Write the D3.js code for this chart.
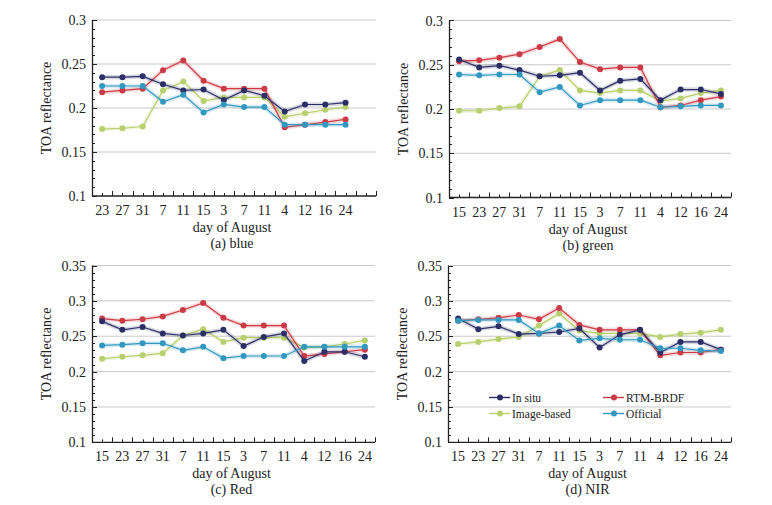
<!DOCTYPE html>
<html><head><meta charset="utf-8">
<script src="https://cdn.jsdelivr.net/npm/d3@7"></script>
<style>body{margin:0;background:#fff}svg{display:block}</style>
</head><body><svg id="c" width="772" height="505"></svg>
<script>
const seriesNames = ["In situ","RTM-BRDF","Image-based","Official"];
const seriesColors = ["#2b2f66","#cc3a45","#b7cf6c","#3198c0"];

const daysBlue = ["23","27","31","7","11","15","3","7","11","4","12","16","24"];
const daysOther = ["15","23","27","31","7","11","15","3","7","11","4","12","16","24"];

const blueInSitu   = [0.235,0.235,0.236,0.227,0.220,0.221,0.209,0.220,0.214,0.196,0.204,0.204,0.206];
const blueRTM      = [0.218,0.220,0.222,0.243,0.254,0.231,0.222,0.222,0.222,0.178,0.181,0.184,0.187];
const blueImage    = [0.176,0.177,0.179,0.220,0.230,0.208,0.212,0.212,0.212,0.190,0.194,0.198,0.201];
const blueOfficial = [0.225,0.225,0.225,0.207,0.215,0.195,0.204,0.201,0.201,0.181,0.181,0.181,0.181];

const greenInSitu   = [0.256,0.247,0.249,0.244,0.237,0.238,0.241,0.221,0.232,0.234,0.210,0.222,0.222,0.217];
const greenRTM      = [0.254,0.255,0.258,0.262,0.270,0.279,0.253,0.245,0.247,0.247,0.202,0.204,0.210,0.214];
const greenImage    = [0.198,0.198,0.201,0.203,0.237,0.244,0.221,0.218,0.221,0.221,0.209,0.212,0.218,0.221];
const greenOfficial = [0.239,0.238,0.239,0.239,0.219,0.225,0.204,0.210,0.210,0.210,0.202,0.203,0.204,0.204];

const redInSitu   = [0.271,0.259,0.263,0.254,0.251,0.254,0.259,0.236,0.249,0.254,0.215,0.228,0.228,0.221];
const redRTM      = [0.275,0.272,0.274,0.278,0.287,0.297,0.276,0.265,0.265,0.265,0.222,0.225,0.228,0.231];
const redImage    = [0.218,0.221,0.223,0.226,0.251,0.260,0.242,0.248,0.248,0.248,0.234,0.235,0.239,0.244];
const redOfficial = [0.237,0.238,0.240,0.240,0.230,0.235,0.219,0.222,0.222,0.222,0.235,0.235,0.235,0.235];

const nirInSitu   = [0.275,0.260,0.264,0.253,0.254,0.256,0.261,0.234,0.252,0.259,0.227,0.242,0.242,0.231];
const nirRTM      = [0.272,0.274,0.276,0.280,0.274,0.290,0.266,0.259,0.259,0.259,0.223,0.227,0.227,0.231];
const nirImage    = [0.239,0.242,0.246,0.249,0.265,0.282,0.258,0.254,0.254,0.254,0.249,0.253,0.255,0.259];
const nirOfficial = [0.272,0.273,0.273,0.273,0.254,0.265,0.244,0.247,0.245,0.245,0.233,0.233,0.230,0.229];

const yTicksLow  = [0.1,0.15,0.2,0.25,0.3];
const yTicksHigh = [0.1,0.15,0.2,0.25,0.3,0.35];
const yTickLabelsLow  = ["0.1","0.15","0.2","0.25","0.3"];
const yTickLabelsHigh = ["0.1","0.15","0.2","0.25","0.3","0.35"];

const xTitle = "day of August";
const yTitle = "TOA reflectance";

const panels = [
  {cap:"(a) blue",  days:daysBlue,  data:[blueInSitu,blueRTM,blueImage,blueOfficial],     yMax:0.3,  ticks:yTicksLow,  labels:yTickLabelsLow,  box:[92,376,20,196]},
  {cap:"(b) green", days:daysOther, data:[greenInSitu,greenRTM,greenImage,greenOfficial], yMax:0.3,  ticks:yTicksLow,  labels:yTickLabelsLow,  box:[449,731,20.5,197.5]},
  {cap:"(c) Red",   days:daysOther, data:[redInSitu,redRTM,redImage,redOfficial],         yMax:0.35, ticks:yTicksHigh, labels:yTickLabelsHigh, box:[92,375,265.5,442.3]},
  {cap:"(d) NIR",   days:daysOther, data:[nirInSitu,nirRTM,nirImage,nirOfficial],         yMax:0.35, ticks:yTicksHigh, labels:yTickLabelsHigh, box:[448,731,265.5,442.3], legend:true}
];

const font = "'Liberation Serif','DejaVu Serif',serif";
const svg = d3.select("#c");

panels.forEach(p => {
  const [L,R,T,B] = p.box;
  const g = svg.append("g");
  const x = d3.scaleLinear().domain([-0.5,13.5]).range([L,R]);
  const y = d3.scaleLinear().domain([0.1,p.yMax]).range([B,T]);

  // gridlines
  g.selectAll(".grid").data(p.ticks.filter(t=>t>0.1)).enter().append("line")
    .attr("x1",L).attr("x2",R).attr("y1",d=>y(d)).attr("y2",d=>y(d))
    .attr("stroke","#c9c9c9").attr("stroke-width",1);

  // y minor ticks (inward)
  const minor = d3.range(0.1, p.yMax+0.0001, 0.01);
  g.selectAll(".ym").data(minor).enter().append("line")
    .attr("x1",L).attr("x2",(d,i)=> i%5===0 ? L+5 : L+3)
    .attr("y1",d=>Math.round(y(d))+0.5).attr("y2",d=>Math.round(y(d))+0.5)
    .attr("stroke","#222").attr("stroke-width",1);

  // x ticks (inward), every half slot
  const xt = d3.range(-0.5, 13.51, 0.5);
  g.selectAll(".xm").data(xt).enter().append("line")
    .attr("x1",d=>Math.round(x(d))+0.5).attr("x2",d=>Math.round(x(d))+0.5)
    .attr("y1",B).attr("y2",(d,i)=> i%2===0 ? B-5 : B-3)
    .attr("stroke","#222").attr("stroke-width",1);

  // axis lines
  g.append("line").attr("x1",L+0.5).attr("x2",L+0.5).attr("y1",T).attr("y2",B).attr("stroke","#222").attr("stroke-width",1.3);
  g.append("line").attr("x1",L).attr("x2",R).attr("y1",B).attr("y2",B).attr("stroke","#222").attr("stroke-width",1.3);

  // y tick labels
  g.selectAll(".yl").data(p.ticks).enter().append("text")
    .attr("x",L-6).attr("y",d=>y(d)+5).attr("text-anchor","end")
    .attr("font-family",font).attr("font-size",14).attr("fill","#222")
    .text((d,i)=>p.labels[i]);

  // x tick labels
  g.selectAll(".xl").data(p.days).enter().append("text")
    .attr("x",(d,i)=>x(i)).attr("y",B+19).attr("text-anchor","middle")
    .attr("font-family",font).attr("font-size",14).attr("fill","#222")
    .text(d=>d);

  const cx = (L+R)/2 - 2;
  g.append("text").attr("x",cx).attr("y",B+36).attr("text-anchor","middle")
    .attr("font-family",font).attr("font-size",14).attr("fill","#222").text(xTitle);
  g.append("text").attr("x",cx).attr("y",B+52).attr("text-anchor","middle")
    .attr("font-family",font).attr("font-size",14).attr("fill","#222").text(p.cap);
  g.append("text").attr("transform",`translate(${L-41},${(T+B)/2}) rotate(-90)`)
    .attr("text-anchor","middle").attr("font-family",font).attr("font-size",14).attr("fill","#222").text(yTitle);

  const line = d3.line().x((d,i)=>x(i)).y(d=>y(d));
  const order = [2,1,0,3];
  order.forEach(si => {
    const vals = p.data[si];
    g.append("path").attr("d",line(vals)).attr("fill","none")
      .attr("stroke",seriesColors[si]).attr("stroke-opacity",0.18).attr("stroke-width",4.5);
    g.append("path").attr("d",line(vals)).attr("fill","none")
      .attr("stroke",seriesColors[si]).attr("stroke-width",1.2);
    g.selectAll(null).data(vals).enter().append("circle")
      .attr("cx",(d,i)=>x(i)).attr("cy",d=>y(d)).attr("r",3)
      .attr("fill",seriesColors[si]);
  });

  if (p.legend) {
    const items = [
      {i:0, x:489, y:397.5}, {i:1, x:603, y:397.5},
      {i:2, x:489, y:413.5}, {i:3, x:603, y:413.5}
    ];
    items.forEach(it => {
      const lg = g.append("g");
      lg.append("line").attr("x1",it.x).attr("x2",it.x+21).attr("y1",it.y).attr("y2",it.y)
        .attr("stroke",seriesColors[it.i]).attr("stroke-width",1.4);
      lg.append("circle").attr("cx",it.x+11).attr("cy",it.y).attr("r",3).attr("fill",seriesColors[it.i]);
      lg.append("text").attr("x",it.x+23).attr("y",it.y+4).attr("font-family",font)
        .attr("font-size",11.5).attr("fill","#222").text(seriesNames[it.i]);
    });
  }
});
</script></body></html>
